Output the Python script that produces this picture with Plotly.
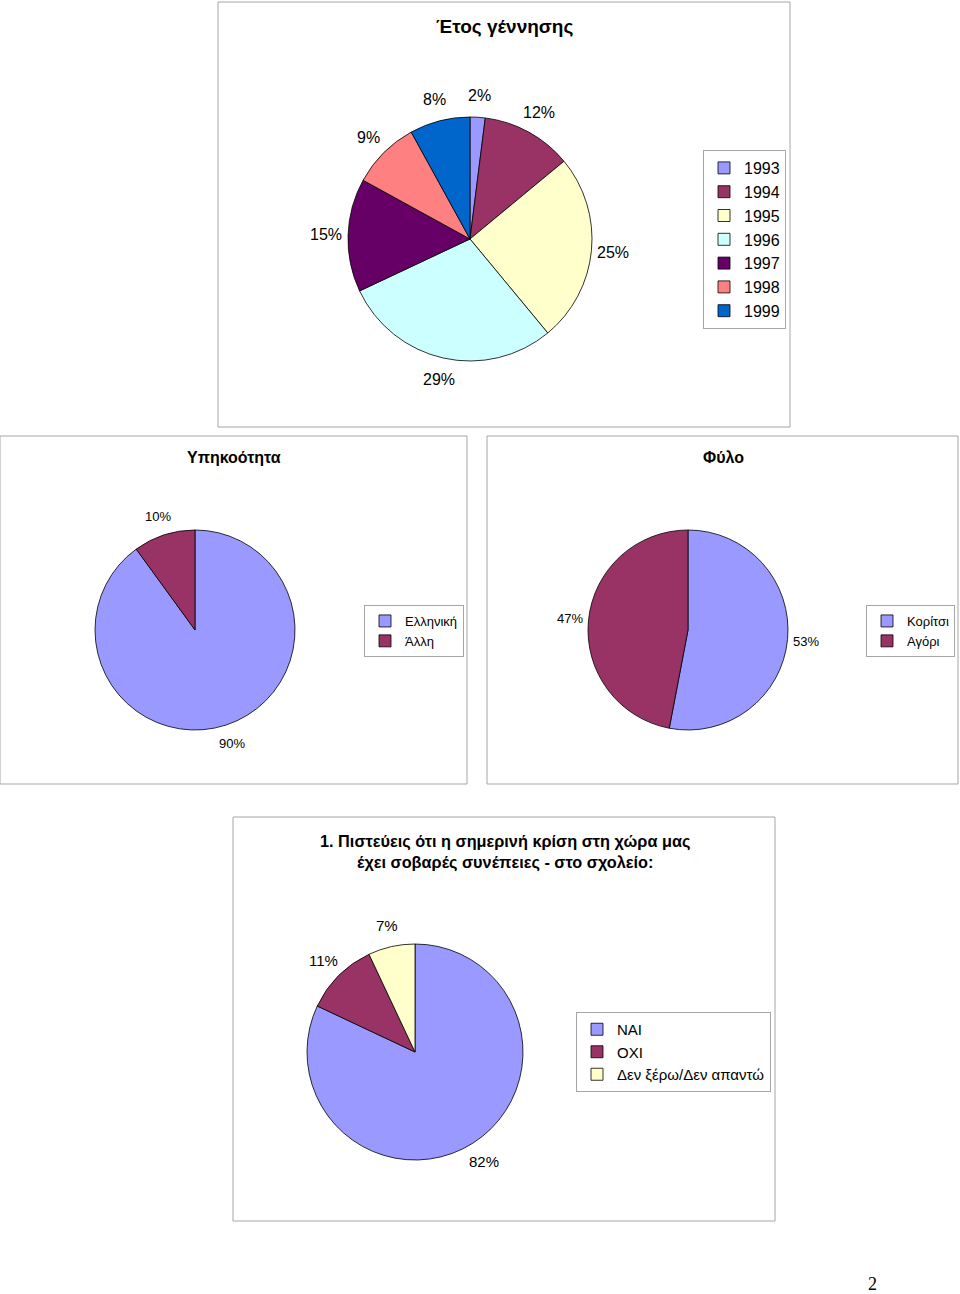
import math
import plotly.graph_objects as go

W, H = 960, 1294
FONT = "Liberation Sans, Arial, sans-serif"

# ---- data ----
birth_labels = ["1993", "1994", "1995", "1996", "1997", "1998", "1999"]
birth_values = [2, 12, 25, 29, 15, 9, 8]
birth_colors = ["#9999FF", "#993366", "#FFFFCC", "#CCFFFF", "#660066", "#FF8080", "#0066CC"]

nat_labels = ["Ελληνική", "Άλλη"]
nat_values = [90, 10]

sex_labels = ["Κορίτσι", "Αγόρι"]
sex_values = [53, 47]

crisis_labels = ["ΝΑΙ", "ΟΧΙ", "Δεν ξέρω/Δεν απαντώ"]
crisis_values = [82, 11, 7]
crisis_colors = ["#9999FF", "#993366", "#FFFFCC"]

titles = ["Έτος γέννησης", "Υπηκοότητα", "Φύλο",
          "1. Πιστεύεις ότι η σημερινή κρίση στη χώρα μας<br>έχει σοβαρές συνέπειες - στο σχολείο:"]


def fx(px):
    return px / W


def fy(py):
    return 1 - py / H


def dom(cx, cy, r):
    return dict(x=[fx(cx - r), fx(cx + r)], y=[fy(cy + r), fy(cy - r)])


fig = go.Figure()

# (labels, values, colors, centre x, centre y, radius, legend id, label font size, label distance factor)
pies = [
    (birth_labels, birth_values, birth_colors, 470, 239, 122, "legend", 16, 1.18),
    (nat_labels, nat_values, crisis_colors[:2], 195, 630, 100, "legend2", 13, 1.19),
    (sex_labels, sex_values, crisis_colors[:2], 688, 630, 100, "legend3", 13, 1.19),
    (crisis_labels, crisis_values, crisis_colors, 415, 1052, 108, "legend4", 15, 1.2),
]

annotations = []
for labels, values, colors, cx, cy, r, leg, fs, k in pies:
    fig.add_trace(go.Pie(
        labels=labels, values=values, sort=False, direction="clockwise", rotation=0,
        marker=dict(colors=colors, line=dict(color="#000000", width=0.8)),
        textinfo="none",
        domain=dom(cx, cy, r), legend=leg, showlegend=True, hoverinfo="label+percent",
    ))
    total = sum(values)
    cum = 0
    for v in values:
        mid = (cum + v / 2) / total
        cum += v
        th = 2 * math.pi * mid
        px = cx + k * r * math.sin(th)
        py = cy - k * r * math.cos(th)
        annotations.append(dict(text=f"{round(100 * v / total)}%", x=fx(px), y=fy(py),
                                font=dict(size=fs)))

shapes = []
for x0, y0, x1, y1 in [(218, 2, 790, 427), (0, 436, 467, 784), (487, 436, 958, 784), (233, 817, 775, 1221)]:
    shapes.append(dict(type="rect", xref="paper", yref="paper",
                       x0=fx(x0), x1=fx(x1), y0=fy(y1), y1=fy(y0),
                       line=dict(color="#a6a6a6", width=1), fillcolor="rgba(0,0,0,0)"))

annotations += [
    dict(text="<b>" + titles[0] + "</b>", x=fx(505), y=fy(27), font=dict(size=19)),
    dict(text="<b>" + titles[1] + "</b>", x=fx(234), y=fy(457), font=dict(size=16)),
    dict(text="<b>" + titles[2] + "</b>", x=fx(723), y=fy(457), font=dict(size=16)),
    dict(text="<b>" + titles[3] + "</b>", x=fx(505), y=fy(852), font=dict(size=16.3)),
    dict(text="2", x=fx(872), y=fy(1284), font=dict(size=18, family="Liberation Serif, Times New Roman, serif")),
]
for a in annotations:
    a.update(xref="paper", yref="paper", showarrow=False, xanchor="center", yanchor="middle")
    a["font"].setdefault("family", FONT)
    a["font"]["color"] = "#000000"


def legend(xr, ymid, fs):
    return dict(x=fx(xr), y=fy(ymid), xanchor="right", yanchor="middle",
                bordercolor="#a6a6a6", borderwidth=1, bgcolor="#ffffff",
                font=dict(family=FONT, size=fs, color="#000000"), itemwidth=30,
                traceorder="normal")


fig.update_layout(
    width=W, height=H, margin=dict(l=0, r=0, t=0, b=0),
    paper_bgcolor="#ffffff", plot_bgcolor="#ffffff",
    shapes=shapes, annotations=annotations,
    legend=legend(786, 239.5, 16),
    legend2=legend(464, 631, 13),
    legend3=legend(955, 631, 13),
    legend4=legend(771, 1052, 15),
    font=dict(family=FONT),
)

fig.write_html("out.html")
